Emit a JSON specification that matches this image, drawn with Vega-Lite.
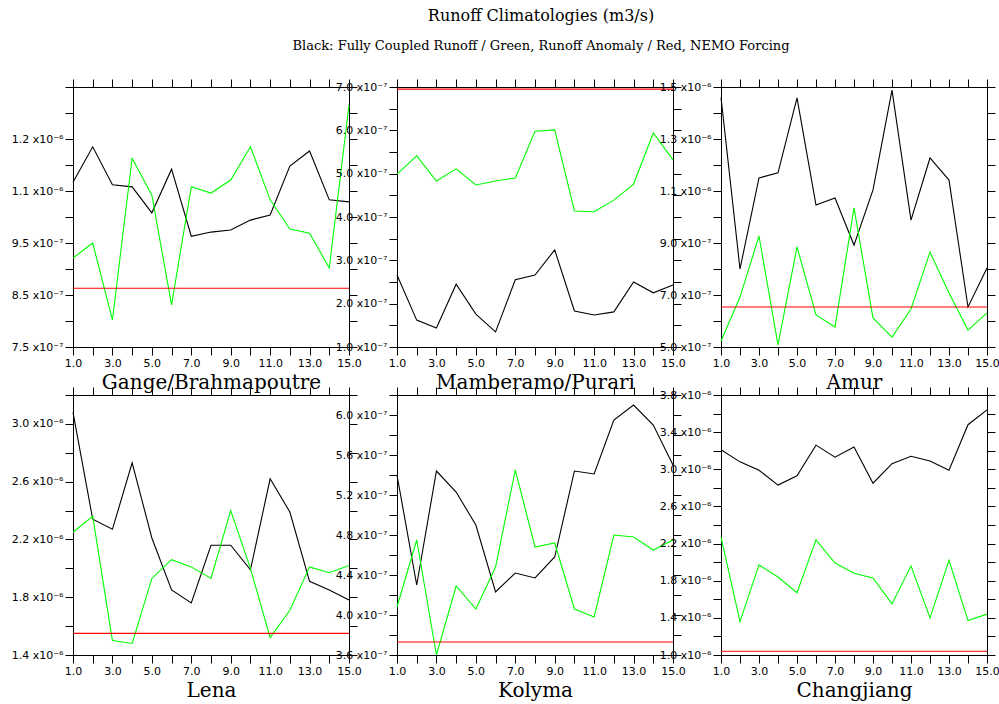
{
  "$schema": "https://vega.github.io/schema/vega-lite/v6.json",
  "background": "white",
  "padding": {"left": 10, "top": 8, "right": 5, "bottom": 5},
  "title": {
    "text": "Runoff Climatologies (m3/s)",
    "subtitle": "Black: Fully Coupled Runoff / Green, Runoff Anomaly  / Red, NEMO Forcing",
    "font": "DejaVu Serif", "fontSize": 16, "fontWeight": "normal", "color": "black",
    "subtitleFont": "DejaVu Serif", "subtitleFontSize": 13, "subtitleColor": "black",
    "subtitlePadding": 16, "offset": 25, "anchor": "middle", "frame": "group", "dx": 468
  },
  "datasets": {
    "runoff": [
      {"river": "Gange/Brahmapoutre", "series": "Fully Coupled Runoff", "month": 1, "value": 1.067e-6},
      {"river": "Gange/Brahmapoutre", "series": "Fully Coupled Runoff", "month": 2, "value": 1.135e-6},
      {"river": "Gange/Brahmapoutre", "series": "Fully Coupled Runoff", "month": 3, "value": 1.062e-6},
      {"river": "Gange/Brahmapoutre", "series": "Fully Coupled Runoff", "month": 4, "value": 1.058e-6},
      {"river": "Gange/Brahmapoutre", "series": "Fully Coupled Runoff", "month": 5, "value": 1.008e-6},
      {"river": "Gange/Brahmapoutre", "series": "Fully Coupled Runoff", "month": 6, "value": 1.092e-6},
      {"river": "Gange/Brahmapoutre", "series": "Fully Coupled Runoff", "month": 7, "value": 0.963e-6},
      {"river": "Gange/Brahmapoutre", "series": "Fully Coupled Runoff", "month": 8, "value": 0.971e-6},
      {"river": "Gange/Brahmapoutre", "series": "Fully Coupled Runoff", "month": 9, "value": 0.975e-6},
      {"river": "Gange/Brahmapoutre", "series": "Fully Coupled Runoff", "month": 10, "value": 0.994e-6},
      {"river": "Gange/Brahmapoutre", "series": "Fully Coupled Runoff", "month": 11, "value": 1.004e-6},
      {"river": "Gange/Brahmapoutre", "series": "Fully Coupled Runoff", "month": 12, "value": 1.098e-6},
      {"river": "Gange/Brahmapoutre", "series": "Fully Coupled Runoff", "month": 13, "value": 1.127e-6},
      {"river": "Gange/Brahmapoutre", "series": "Fully Coupled Runoff", "month": 14, "value": 1.033e-6},
      {"river": "Gange/Brahmapoutre", "series": "Fully Coupled Runoff", "month": 15, "value": 1.029e-6},
      {"river": "Gange/Brahmapoutre", "series": "Runoff Anomaly", "month": 1, "value": 0.921e-6},
      {"river": "Gange/Brahmapoutre", "series": "Runoff Anomaly", "month": 2, "value": 0.950e-6},
      {"river": "Gange/Brahmapoutre", "series": "Runoff Anomaly", "month": 3, "value": 0.802e-6},
      {"river": "Gange/Brahmapoutre", "series": "Runoff Anomaly", "month": 4, "value": 1.113e-6},
      {"river": "Gange/Brahmapoutre", "series": "Runoff Anomaly", "month": 5, "value": 1.042e-6},
      {"river": "Gange/Brahmapoutre", "series": "Runoff Anomaly", "month": 6, "value": 0.831e-6},
      {"river": "Gange/Brahmapoutre", "series": "Runoff Anomaly", "month": 7, "value": 1.058e-6},
      {"river": "Gange/Brahmapoutre", "series": "Runoff Anomaly", "month": 8, "value": 1.046e-6},
      {"river": "Gange/Brahmapoutre", "series": "Runoff Anomaly", "month": 9, "value": 1.071e-6},
      {"river": "Gange/Brahmapoutre", "series": "Runoff Anomaly", "month": 10, "value": 1.135e-6},
      {"river": "Gange/Brahmapoutre", "series": "Runoff Anomaly", "month": 11, "value": 1.033e-6},
      {"river": "Gange/Brahmapoutre", "series": "Runoff Anomaly", "month": 12, "value": 0.977e-6},
      {"river": "Gange/Brahmapoutre", "series": "Runoff Anomaly", "month": 13, "value": 0.969e-6},
      {"river": "Gange/Brahmapoutre", "series": "Runoff Anomaly", "month": 14, "value": 0.902e-6},
      {"river": "Gange/Brahmapoutre", "series": "Runoff Anomaly", "month": 15, "value": 1.215e-6},
      {"river": "Gange/Brahmapoutre", "series": "NEMO Forcing", "month": 1, "value": 0.863e-6},
      {"river": "Gange/Brahmapoutre", "series": "NEMO Forcing", "month": 15, "value": 0.863e-6},

      {"river": "Mamberamo/Purari", "series": "Fully Coupled Runoff", "month": 1, "value": 2.66e-7},
      {"river": "Mamberamo/Purari", "series": "Fully Coupled Runoff", "month": 2, "value": 1.62e-7},
      {"river": "Mamberamo/Purari", "series": "Fully Coupled Runoff", "month": 3, "value": 1.44e-7},
      {"river": "Mamberamo/Purari", "series": "Fully Coupled Runoff", "month": 4, "value": 2.45e-7},
      {"river": "Mamberamo/Purari", "series": "Fully Coupled Runoff", "month": 5, "value": 1.76e-7},
      {"river": "Mamberamo/Purari", "series": "Fully Coupled Runoff", "month": 6, "value": 1.35e-7},
      {"river": "Mamberamo/Purari", "series": "Fully Coupled Runoff", "month": 7, "value": 2.55e-7},
      {"river": "Mamberamo/Purari", "series": "Fully Coupled Runoff", "month": 8, "value": 2.66e-7},
      {"river": "Mamberamo/Purari", "series": "Fully Coupled Runoff", "month": 9, "value": 3.24e-7},
      {"river": "Mamberamo/Purari", "series": "Fully Coupled Runoff", "month": 10, "value": 1.83e-7},
      {"river": "Mamberamo/Purari", "series": "Fully Coupled Runoff", "month": 11, "value": 1.74e-7},
      {"river": "Mamberamo/Purari", "series": "Fully Coupled Runoff", "month": 12, "value": 1.81e-7},
      {"river": "Mamberamo/Purari", "series": "Fully Coupled Runoff", "month": 13, "value": 2.50e-7},
      {"river": "Mamberamo/Purari", "series": "Fully Coupled Runoff", "month": 14, "value": 2.25e-7},
      {"river": "Mamberamo/Purari", "series": "Fully Coupled Runoff", "month": 15, "value": 2.43e-7},
      {"river": "Mamberamo/Purari", "series": "Runoff Anomaly", "month": 1, "value": 4.99e-7},
      {"river": "Mamberamo/Purari", "series": "Runoff Anomaly", "month": 2, "value": 5.41e-7},
      {"river": "Mamberamo/Purari", "series": "Runoff Anomaly", "month": 3, "value": 4.83e-7},
      {"river": "Mamberamo/Purari", "series": "Runoff Anomaly", "month": 4, "value": 5.11e-7},
      {"river": "Mamberamo/Purari", "series": "Runoff Anomaly", "month": 5, "value": 4.74e-7},
      {"river": "Mamberamo/Purari", "series": "Runoff Anomaly", "month": 6, "value": 4.83e-7},
      {"river": "Mamberamo/Purari", "series": "Runoff Anomaly", "month": 7, "value": 4.90e-7},
      {"river": "Mamberamo/Purari", "series": "Runoff Anomaly", "month": 8, "value": 5.98e-7},
      {"river": "Mamberamo/Purari", "series": "Runoff Anomaly", "month": 9, "value": 6.01e-7},
      {"river": "Mamberamo/Purari", "series": "Runoff Anomaly", "month": 10, "value": 4.14e-7},
      {"river": "Mamberamo/Purari", "series": "Runoff Anomaly", "month": 11, "value": 4.12e-7},
      {"river": "Mamberamo/Purari", "series": "Runoff Anomaly", "month": 12, "value": 4.39e-7},
      {"river": "Mamberamo/Purari", "series": "Runoff Anomaly", "month": 13, "value": 4.76e-7},
      {"river": "Mamberamo/Purari", "series": "Runoff Anomaly", "month": 14, "value": 5.94e-7},
      {"river": "Mamberamo/Purari", "series": "Runoff Anomaly", "month": 15, "value": 5.32e-7},
      {"river": "Mamberamo/Purari", "series": "NEMO Forcing", "month": 1, "value": 6.95e-7},
      {"river": "Mamberamo/Purari", "series": "NEMO Forcing", "month": 15, "value": 6.95e-7},

      {"river": "Amur", "series": "Fully Coupled Runoff", "month": 1, "value": 1.46e-6},
      {"river": "Amur", "series": "Fully Coupled Runoff", "month": 2, "value": 8.0e-7},
      {"river": "Amur", "series": "Fully Coupled Runoff", "month": 3, "value": 1.15e-6},
      {"river": "Amur", "series": "Fully Coupled Runoff", "month": 4, "value": 1.17e-6},
      {"river": "Amur", "series": "Fully Coupled Runoff", "month": 5, "value": 1.458e-6},
      {"river": "Amur", "series": "Fully Coupled Runoff", "month": 6, "value": 1.046e-6},
      {"river": "Amur", "series": "Fully Coupled Runoff", "month": 7, "value": 1.073e-6},
      {"river": "Amur", "series": "Fully Coupled Runoff", "month": 8, "value": 8.92e-7},
      {"river": "Amur", "series": "Fully Coupled Runoff", "month": 9, "value": 1.104e-6},
      {"river": "Amur", "series": "Fully Coupled Runoff", "month": 10, "value": 1.488e-6},
      {"river": "Amur", "series": "Fully Coupled Runoff", "month": 11, "value": 9.88e-7},
      {"river": "Amur", "series": "Fully Coupled Runoff", "month": 12, "value": 1.227e-6},
      {"river": "Amur", "series": "Fully Coupled Runoff", "month": 13, "value": 1.142e-6},
      {"river": "Amur", "series": "Fully Coupled Runoff", "month": 14, "value": 6.54e-7},
      {"river": "Amur", "series": "Fully Coupled Runoff", "month": 15, "value": 8.04e-7},
      {"river": "Amur", "series": "Runoff Anomaly", "month": 1, "value": 5.23e-7},
      {"river": "Amur", "series": "Runoff Anomaly", "month": 2, "value": 6.92e-7},
      {"river": "Amur", "series": "Runoff Anomaly", "month": 3, "value": 9.27e-7},
      {"river": "Amur", "series": "Runoff Anomaly", "month": 4, "value": 5.08e-7},
      {"river": "Amur", "series": "Runoff Anomaly", "month": 5, "value": 8.85e-7},
      {"river": "Amur", "series": "Runoff Anomaly", "month": 6, "value": 6.23e-7},
      {"river": "Amur", "series": "Runoff Anomaly", "month": 7, "value": 5.77e-7},
      {"river": "Amur", "series": "Runoff Anomaly", "month": 8, "value": 1.035e-6},
      {"river": "Amur", "series": "Runoff Anomaly", "month": 9, "value": 6.12e-7},
      {"river": "Amur", "series": "Runoff Anomaly", "month": 10, "value": 5.38e-7},
      {"river": "Amur", "series": "Runoff Anomaly", "month": 11, "value": 6.46e-7},
      {"river": "Amur", "series": "Runoff Anomaly", "month": 12, "value": 8.65e-7},
      {"river": "Amur", "series": "Runoff Anomaly", "month": 13, "value": 7.08e-7},
      {"river": "Amur", "series": "Runoff Anomaly", "month": 14, "value": 5.65e-7},
      {"river": "Amur", "series": "Runoff Anomaly", "month": 15, "value": 6.31e-7},
      {"river": "Amur", "series": "NEMO Forcing", "month": 1, "value": 6.54e-7},
      {"river": "Amur", "series": "NEMO Forcing", "month": 15, "value": 6.54e-7},

      {"river": "Lena", "series": "Fully Coupled Runoff", "month": 1, "value": 3.08e-6},
      {"river": "Lena", "series": "Fully Coupled Runoff", "month": 2, "value": 2.34e-6},
      {"river": "Lena", "series": "Fully Coupled Runoff", "month": 3, "value": 2.27e-6},
      {"river": "Lena", "series": "Fully Coupled Runoff", "month": 4, "value": 2.73e-6},
      {"river": "Lena", "series": "Fully Coupled Runoff", "month": 5, "value": 2.21e-6},
      {"river": "Lena", "series": "Fully Coupled Runoff", "month": 6, "value": 1.85e-6},
      {"river": "Lena", "series": "Fully Coupled Runoff", "month": 7, "value": 1.76e-6},
      {"river": "Lena", "series": "Fully Coupled Runoff", "month": 8, "value": 2.16e-6},
      {"river": "Lena", "series": "Fully Coupled Runoff", "month": 9, "value": 2.16e-6},
      {"river": "Lena", "series": "Fully Coupled Runoff", "month": 10, "value": 1.99e-6},
      {"river": "Lena", "series": "Fully Coupled Runoff", "month": 11, "value": 2.62e-6},
      {"river": "Lena", "series": "Fully Coupled Runoff", "month": 12, "value": 2.39e-6},
      {"river": "Lena", "series": "Fully Coupled Runoff", "month": 13, "value": 1.91e-6},
      {"river": "Lena", "series": "Fully Coupled Runoff", "month": 14, "value": 1.85e-6},
      {"river": "Lena", "series": "Fully Coupled Runoff", "month": 15, "value": 1.78e-6},
      {"river": "Lena", "series": "Runoff Anomaly", "month": 1, "value": 2.25e-6},
      {"river": "Lena", "series": "Runoff Anomaly", "month": 2, "value": 2.36e-6},
      {"river": "Lena", "series": "Runoff Anomaly", "month": 3, "value": 1.50e-6},
      {"river": "Lena", "series": "Runoff Anomaly", "month": 4, "value": 1.48e-6},
      {"river": "Lena", "series": "Runoff Anomaly", "month": 5, "value": 1.93e-6},
      {"river": "Lena", "series": "Runoff Anomaly", "month": 6, "value": 2.06e-6},
      {"river": "Lena", "series": "Runoff Anomaly", "month": 7, "value": 2.01e-6},
      {"river": "Lena", "series": "Runoff Anomaly", "month": 8, "value": 1.93e-6},
      {"river": "Lena", "series": "Runoff Anomaly", "month": 9, "value": 2.40e-6},
      {"river": "Lena", "series": "Runoff Anomaly", "month": 10, "value": 2.00e-6},
      {"river": "Lena", "series": "Runoff Anomaly", "month": 11, "value": 1.52e-6},
      {"river": "Lena", "series": "Runoff Anomaly", "month": 12, "value": 1.71e-6},
      {"river": "Lena", "series": "Runoff Anomaly", "month": 13, "value": 2.01e-6},
      {"river": "Lena", "series": "Runoff Anomaly", "month": 14, "value": 1.97e-6},
      {"river": "Lena", "series": "Runoff Anomaly", "month": 15, "value": 2.02e-6},
      {"river": "Lena", "series": "NEMO Forcing", "month": 1, "value": 1.55e-6},
      {"river": "Lena", "series": "NEMO Forcing", "month": 15, "value": 1.55e-6},

      {"river": "Kolyma", "series": "Fully Coupled Runoff", "month": 1, "value": 5.40e-7},
      {"river": "Kolyma", "series": "Fully Coupled Runoff", "month": 2, "value": 4.30e-7},
      {"river": "Kolyma", "series": "Fully Coupled Runoff", "month": 3, "value": 5.44e-7},
      {"river": "Kolyma", "series": "Fully Coupled Runoff", "month": 4, "value": 5.23e-7},
      {"river": "Kolyma", "series": "Fully Coupled Runoff", "month": 5, "value": 4.90e-7},
      {"river": "Kolyma", "series": "Fully Coupled Runoff", "month": 6, "value": 4.23e-7},
      {"river": "Kolyma", "series": "Fully Coupled Runoff", "month": 7, "value": 4.42e-7},
      {"river": "Kolyma", "series": "Fully Coupled Runoff", "month": 8, "value": 4.37e-7},
      {"river": "Kolyma", "series": "Fully Coupled Runoff", "month": 9, "value": 4.58e-7},
      {"river": "Kolyma", "series": "Fully Coupled Runoff", "month": 10, "value": 5.44e-7},
      {"river": "Kolyma", "series": "Fully Coupled Runoff", "month": 11, "value": 5.41e-7},
      {"river": "Kolyma", "series": "Fully Coupled Runoff", "month": 12, "value": 5.95e-7},
      {"river": "Kolyma", "series": "Fully Coupled Runoff", "month": 13, "value": 6.10e-7},
      {"river": "Kolyma", "series": "Fully Coupled Runoff", "month": 14, "value": 5.90e-7},
      {"river": "Kolyma", "series": "Fully Coupled Runoff", "month": 15, "value": 5.50e-7},
      {"river": "Kolyma", "series": "Runoff Anomaly", "month": 1, "value": 4.08e-7},
      {"river": "Kolyma", "series": "Runoff Anomaly", "month": 2, "value": 4.75e-7},
      {"river": "Kolyma", "series": "Runoff Anomaly", "month": 3, "value": 3.60e-7},
      {"river": "Kolyma", "series": "Runoff Anomaly", "month": 4, "value": 4.29e-7},
      {"river": "Kolyma", "series": "Runoff Anomaly", "month": 5, "value": 4.06e-7},
      {"river": "Kolyma", "series": "Runoff Anomaly", "month": 6, "value": 4.48e-7},
      {"river": "Kolyma", "series": "Runoff Anomaly", "month": 7, "value": 5.45e-7},
      {"river": "Kolyma", "series": "Runoff Anomaly", "month": 8, "value": 4.68e-7},
      {"river": "Kolyma", "series": "Runoff Anomaly", "month": 9, "value": 4.72e-7},
      {"river": "Kolyma", "series": "Runoff Anomaly", "month": 10, "value": 4.06e-7},
      {"river": "Kolyma", "series": "Runoff Anomaly", "month": 11, "value": 3.98e-7},
      {"river": "Kolyma", "series": "Runoff Anomaly", "month": 12, "value": 4.80e-7},
      {"river": "Kolyma", "series": "Runoff Anomaly", "month": 13, "value": 4.78e-7},
      {"river": "Kolyma", "series": "Runoff Anomaly", "month": 14, "value": 4.65e-7},
      {"river": "Kolyma", "series": "Runoff Anomaly", "month": 15, "value": 4.75e-7},
      {"river": "Kolyma", "series": "NEMO Forcing", "month": 1, "value": 3.73e-7},
      {"river": "Kolyma", "series": "NEMO Forcing", "month": 15, "value": 3.73e-7},

      {"river": "Changjiang", "series": "Fully Coupled Runoff", "month": 1, "value": 3.21e-6},
      {"river": "Changjiang", "series": "Fully Coupled Runoff", "month": 2, "value": 3.08e-6},
      {"river": "Changjiang", "series": "Fully Coupled Runoff", "month": 3, "value": 2.99e-6},
      {"river": "Changjiang", "series": "Fully Coupled Runoff", "month": 4, "value": 2.83e-6},
      {"river": "Changjiang", "series": "Fully Coupled Runoff", "month": 5, "value": 2.93e-6},
      {"river": "Changjiang", "series": "Fully Coupled Runoff", "month": 6, "value": 3.26e-6},
      {"river": "Changjiang", "series": "Fully Coupled Runoff", "month": 7, "value": 3.13e-6},
      {"river": "Changjiang", "series": "Fully Coupled Runoff", "month": 8, "value": 3.24e-6},
      {"river": "Changjiang", "series": "Fully Coupled Runoff", "month": 9, "value": 2.85e-6},
      {"river": "Changjiang", "series": "Fully Coupled Runoff", "month": 10, "value": 3.06e-6},
      {"river": "Changjiang", "series": "Fully Coupled Runoff", "month": 11, "value": 3.14e-6},
      {"river": "Changjiang", "series": "Fully Coupled Runoff", "month": 12, "value": 3.09e-6},
      {"river": "Changjiang", "series": "Fully Coupled Runoff", "month": 13, "value": 2.99e-6},
      {"river": "Changjiang", "series": "Fully Coupled Runoff", "month": 14, "value": 3.48e-6},
      {"river": "Changjiang", "series": "Fully Coupled Runoff", "month": 15, "value": 3.64e-6},
      {"river": "Changjiang", "series": "Runoff Anomaly", "month": 1, "value": 2.27e-6},
      {"river": "Changjiang", "series": "Runoff Anomaly", "month": 2, "value": 1.36e-6},
      {"river": "Changjiang", "series": "Runoff Anomaly", "month": 3, "value": 1.97e-6},
      {"river": "Changjiang", "series": "Runoff Anomaly", "month": 4, "value": 1.84e-6},
      {"river": "Changjiang", "series": "Runoff Anomaly", "month": 5, "value": 1.67e-6},
      {"river": "Changjiang", "series": "Runoff Anomaly", "month": 6, "value": 2.24e-6},
      {"river": "Changjiang", "series": "Runoff Anomaly", "month": 7, "value": 1.99e-6},
      {"river": "Changjiang", "series": "Runoff Anomaly", "month": 8, "value": 1.88e-6},
      {"river": "Changjiang", "series": "Runoff Anomaly", "month": 9, "value": 1.83e-6},
      {"river": "Changjiang", "series": "Runoff Anomaly", "month": 10, "value": 1.55e-6},
      {"river": "Changjiang", "series": "Runoff Anomaly", "month": 11, "value": 1.96e-6},
      {"river": "Changjiang", "series": "Runoff Anomaly", "month": 12, "value": 1.40e-6},
      {"river": "Changjiang", "series": "Runoff Anomaly", "month": 13, "value": 2.02e-6},
      {"river": "Changjiang", "series": "Runoff Anomaly", "month": 14, "value": 1.37e-6},
      {"river": "Changjiang", "series": "Runoff Anomaly", "month": 15, "value": 1.44e-6},
      {"river": "Changjiang", "series": "NEMO Forcing", "month": 1, "value": 1.04e-6},
      {"river": "Changjiang", "series": "NEMO Forcing", "month": 15, "value": 1.04e-6}
    ]
  },
  "data": {"name": "runoff"},
  "columns": 3,
  "spacing": {"row": 48, "column": 48},
  "bounds": "flush",
  "concat": [
    {
      "width": 276, "height": 260,
      "transform": [{"filter": "datum.river == 'Gange/Brahmapoutre'"}],
      "layer": [
        {"mark": {"type": "line", "strokeWidth": 1.1},
         "encoding": {
           "x": {"field": "month", "type": "quantitative", "scale": {"domain": [1, 15], "nice": false, "zero": false},
                 "axis": {"orient": "bottom", "values": [1,2,3,4,5,6,7,8,9,10,11,12,13,14,15], "labelExpr": "datum.value % 2 == 1 ? format(datum.value, '.1f') : ''", "title": "Gange/Brahmapoutre"}},
           "y": {"field": "value", "type": "quantitative", "scale": {"domain": [7.5e-7, 1.25e-6], "nice": false, "zero": false},
                 "axis": {"orient": "left", "values": [7.5e-7, 8e-7, 8.5e-7, 9e-7, 9.5e-7, 1e-6, 1.05e-6, 1.1e-6, 1.15e-6, 1.2e-6, 1.25e-6],
                          "labelExpr": "['7.5 x10⁻⁷','','8.5 x10⁻⁷','','9.5 x10⁻⁷','','1.1 x10⁻⁶','','1.2 x10⁻⁶','',''][round((datum.value-7.5e-7)/5e-8)]", "title": null}},
           "color": {"field": "series", "type": "nominal", "scale": {"domain": ["Fully Coupled Runoff", "Runoff Anomaly", "NEMO Forcing"], "range": ["#000000", "#00ff00", "#ff0000"]}, "legend": null}
         }},
        {"mark": {"type": "line", "opacity": 0},
         "encoding": {
           "x": {"field": "month", "type": "quantitative", "axis": {"orient": "top", "values": [1,2,3,4,5,6,7,8,9,10,11,12,13,14,15], "labels": false, "domain": false, "title": null}},
           "y": {"field": "value", "type": "quantitative", "axis": {"orient": "right", "values": [7.5e-7, 8e-7, 8.5e-7, 9e-7, 9.5e-7, 1e-6, 1.05e-6, 1.1e-6, 1.15e-6, 1.2e-6, 1.25e-6], "labels": false, "domain": false, "title": null}},
           "detail": {"field": "series"}
         }}
      ],
      "resolve": {"axis": {"x": "independent", "y": "independent"}}
    },
    {
      "width": 276, "height": 260,
      "transform": [{"filter": "datum.river == 'Mamberamo/Purari'"}],
      "layer": [
        {"mark": {"type": "line", "strokeWidth": 1.1},
         "encoding": {
           "x": {"field": "month", "type": "quantitative", "scale": {"domain": [1, 15], "nice": false, "zero": false},
                 "axis": {"orient": "bottom", "values": [1,2,3,4,5,6,7,8,9,10,11,12,13,14,15], "labelExpr": "datum.value % 2 == 1 ? format(datum.value, '.1f') : ''", "title": "Mamberamo/Purari"}},
           "y": {"field": "value", "type": "quantitative", "scale": {"domain": [1e-7, 7e-7], "nice": false, "zero": false},
                 "axis": {"orient": "left", "values": [1e-7, 1.5e-7, 2e-7, 2.5e-7, 3e-7, 3.5e-7, 4e-7, 4.5e-7, 5e-7, 5.5e-7, 6e-7, 6.5e-7, 7e-7],
                          "labelExpr": "['1.0 x10⁻⁷','','2.0 x10⁻⁷','','3.0 x10⁻⁷','','4.0 x10⁻⁷','','5.0 x10⁻⁷','','6.0 x10⁻⁷','','7.0 x10⁻⁷'][round((datum.value-1e-7)/5e-8)]", "title": null}},
           "color": {"field": "series", "type": "nominal", "scale": {"domain": ["Fully Coupled Runoff", "Runoff Anomaly", "NEMO Forcing"], "range": ["#000000", "#00ff00", "#ff0000"]}, "legend": null}
         }},
        {"mark": {"type": "line", "opacity": 0},
         "encoding": {
           "x": {"field": "month", "type": "quantitative", "axis": {"orient": "top", "values": [1,2,3,4,5,6,7,8,9,10,11,12,13,14,15], "labels": false, "domain": false, "title": null}},
           "y": {"field": "value", "type": "quantitative", "axis": {"orient": "right", "values": [1e-7, 1.5e-7, 2e-7, 2.5e-7, 3e-7, 3.5e-7, 4e-7, 4.5e-7, 5e-7, 5.5e-7, 6e-7, 6.5e-7, 7e-7], "labels": false, "domain": false, "title": null}},
           "detail": {"field": "series"}
         }}
      ],
      "resolve": {"axis": {"x": "independent", "y": "independent"}}
    },
    {
      "width": 266, "height": 260,
      "transform": [{"filter": "datum.river == 'Amur'"}],
      "layer": [
        {"mark": {"type": "line", "strokeWidth": 1.1},
         "encoding": {
           "x": {"field": "month", "type": "quantitative", "scale": {"domain": [1, 15], "nice": false, "zero": false},
                 "axis": {"orient": "bottom", "values": [1,2,3,4,5,6,7,8,9,10,11,12,13,14,15], "labelExpr": "datum.value % 2 == 1 ? format(datum.value, '.1f') : ''", "title": "Amur"}},
           "y": {"field": "value", "type": "quantitative", "scale": {"domain": [5e-7, 1.5e-6], "nice": false, "zero": false},
                 "axis": {"orient": "left", "values": [5e-7, 6e-7, 7e-7, 8e-7, 9e-7, 1e-6, 1.1e-6, 1.2e-6, 1.3e-6, 1.4e-6, 1.5e-6],
                          "labelExpr": "['5.0 x10⁻⁷','','7.0 x10⁻⁷','','9.0 x10⁻⁷','','1.1 x10⁻⁶','','1.3 x10⁻⁶','','1.5 x10⁻⁶'][round((datum.value-5e-7)/1e-7)]", "title": null}},
           "color": {"field": "series", "type": "nominal", "scale": {"domain": ["Fully Coupled Runoff", "Runoff Anomaly", "NEMO Forcing"], "range": ["#000000", "#00ff00", "#ff0000"]}, "legend": null}
         }},
        {"mark": {"type": "line", "opacity": 0},
         "encoding": {
           "x": {"field": "month", "type": "quantitative", "axis": {"orient": "top", "values": [1,2,3,4,5,6,7,8,9,10,11,12,13,14,15], "labels": false, "domain": false, "title": null}},
           "y": {"field": "value", "type": "quantitative", "axis": {"orient": "right", "values": [5e-7, 6e-7, 7e-7, 8e-7, 9e-7, 1e-6, 1.1e-6, 1.2e-6, 1.3e-6, 1.4e-6, 1.5e-6], "labels": false, "domain": false, "title": null}},
           "detail": {"field": "series"}
         }}
      ],
      "resolve": {"axis": {"x": "independent", "y": "independent"}}
    },
    {
      "width": 276, "height": 260,
      "transform": [{"filter": "datum.river == 'Lena'"}],
      "layer": [
        {"mark": {"type": "line", "strokeWidth": 1.1},
         "encoding": {
           "x": {"field": "month", "type": "quantitative", "scale": {"domain": [1, 15], "nice": false, "zero": false},
                 "axis": {"orient": "bottom", "values": [1,2,3,4,5,6,7,8,9,10,11,12,13,14,15], "labelExpr": "datum.value % 2 == 1 ? format(datum.value, '.1f') : ''", "title": "Lena"}},
           "y": {"field": "value", "type": "quantitative", "scale": {"domain": [1.4e-6, 3.2e-6], "nice": false, "zero": false},
                 "axis": {"orient": "left", "values": [1.4e-6, 1.6e-6, 1.8e-6, 2e-6, 2.2e-6, 2.4e-6, 2.6e-6, 2.8e-6, 3e-6, 3.2e-6],
                          "labelExpr": "['1.4 x10⁻⁶','','1.8 x10⁻⁶','','2.2 x10⁻⁶','','2.6 x10⁻⁶','','3.0 x10⁻⁶',''][round((datum.value-1.4e-6)/2e-7)]", "title": null}},
           "color": {"field": "series", "type": "nominal", "scale": {"domain": ["Fully Coupled Runoff", "Runoff Anomaly", "NEMO Forcing"], "range": ["#000000", "#00ff00", "#ff0000"]}, "legend": null}
         }},
        {"mark": {"type": "line", "opacity": 0},
         "encoding": {
           "x": {"field": "month", "type": "quantitative", "axis": {"orient": "top", "values": [1,2,3,4,5,6,7,8,9,10,11,12,13,14,15], "labels": false, "domain": false, "title": null}},
           "y": {"field": "value", "type": "quantitative", "axis": {"orient": "right", "values": [1.4e-6, 1.6e-6, 1.8e-6, 2e-6, 2.2e-6, 2.4e-6, 2.6e-6, 2.8e-6, 3e-6, 3.2e-6], "labels": false, "domain": false, "title": null}},
           "detail": {"field": "series"}
         }}
      ],
      "resolve": {"axis": {"x": "independent", "y": "independent"}}
    },
    {
      "width": 276, "height": 260,
      "transform": [{"filter": "datum.river == 'Kolyma'"}],
      "layer": [
        {"mark": {"type": "line", "strokeWidth": 1.1},
         "encoding": {
           "x": {"field": "month", "type": "quantitative", "scale": {"domain": [1, 15], "nice": false, "zero": false},
                 "axis": {"orient": "bottom", "values": [1,2,3,4,5,6,7,8,9,10,11,12,13,14,15], "labelExpr": "datum.value % 2 == 1 ? format(datum.value, '.1f') : ''", "title": "Kolyma"}},
           "y": {"field": "value", "type": "quantitative", "scale": {"domain": [3.6e-7, 6.2e-7], "nice": false, "zero": false},
                 "axis": {"orient": "left", "values": [3.6e-7, 3.8e-7, 4e-7, 4.2e-7, 4.4e-7, 4.6e-7, 4.8e-7, 5e-7, 5.2e-7, 5.4e-7, 5.6e-7, 5.8e-7, 6e-7, 6.2e-7],
                          "labelExpr": "['3.6 x10⁻⁷','','4.0 x10⁻⁷','','4.4 x10⁻⁷','','4.8 x10⁻⁷','','5.2 x10⁻⁷','','5.6 x10⁻⁷','','6.0 x10⁻⁷',''][round((datum.value-3.6e-7)/2e-8)]", "title": null}},
           "color": {"field": "series", "type": "nominal", "scale": {"domain": ["Fully Coupled Runoff", "Runoff Anomaly", "NEMO Forcing"], "range": ["#000000", "#00ff00", "#ff0000"]}, "legend": null}
         }},
        {"mark": {"type": "line", "opacity": 0},
         "encoding": {
           "x": {"field": "month", "type": "quantitative", "axis": {"orient": "top", "values": [1,2,3,4,5,6,7,8,9,10,11,12,13,14,15], "labels": false, "domain": false, "title": null}},
           "y": {"field": "value", "type": "quantitative", "axis": {"orient": "right", "values": [3.6e-7, 3.8e-7, 4e-7, 4.2e-7, 4.4e-7, 4.6e-7, 4.8e-7, 5e-7, 5.2e-7, 5.4e-7, 5.6e-7, 5.8e-7, 6e-7, 6.2e-7], "labels": false, "domain": false, "title": null}},
           "detail": {"field": "series"}
         }}
      ],
      "resolve": {"axis": {"x": "independent", "y": "independent"}}
    },
    {
      "width": 266, "height": 260,
      "transform": [{"filter": "datum.river == 'Changjiang'"}],
      "layer": [
        {"mark": {"type": "line", "strokeWidth": 1.1},
         "encoding": {
           "x": {"field": "month", "type": "quantitative", "scale": {"domain": [1, 15], "nice": false, "zero": false},
                 "axis": {"orient": "bottom", "values": [1,2,3,4,5,6,7,8,9,10,11,12,13,14,15], "labelExpr": "datum.value % 2 == 1 ? format(datum.value, '.1f') : ''", "title": "Changjiang"}},
           "y": {"field": "value", "type": "quantitative", "scale": {"domain": [1e-6, 3.8e-6], "nice": false, "zero": false},
                 "axis": {"orient": "left", "values": [1e-6, 1.2e-6, 1.4e-6, 1.6e-6, 1.8e-6, 2e-6, 2.2e-6, 2.4e-6, 2.6e-6, 2.8e-6, 3e-6, 3.2e-6, 3.4e-6, 3.6e-6, 3.8e-6],
                          "labelExpr": "['1.0 x10⁻⁶','','1.4 x10⁻⁶','','1.8 x10⁻⁶','','2.2 x10⁻⁶','','2.6 x10⁻⁶','','3.0 x10⁻⁶','','3.4 x10⁻⁶','','3.8 x10⁻⁶'][round((datum.value-1e-6)/2e-7)]", "title": null}},
           "color": {"field": "series", "type": "nominal", "scale": {"domain": ["Fully Coupled Runoff", "Runoff Anomaly", "NEMO Forcing"], "range": ["#000000", "#00ff00", "#ff0000"]}, "legend": null}
         }},
        {"mark": {"type": "line", "opacity": 0},
         "encoding": {
           "x": {"field": "month", "type": "quantitative", "axis": {"orient": "top", "values": [1,2,3,4,5,6,7,8,9,10,11,12,13,14,15], "labels": false, "domain": false, "title": null}},
           "y": {"field": "value", "type": "quantitative", "axis": {"orient": "right", "values": [1e-6, 1.2e-6, 1.4e-6, 1.6e-6, 1.8e-6, 2e-6, 2.2e-6, 2.4e-6, 2.6e-6, 2.8e-6, 3e-6, 3.2e-6, 3.4e-6, 3.6e-6, 3.8e-6], "labels": false, "domain": false, "title": null}},
           "detail": {"field": "series"}
         }}
      ],
      "resolve": {"axis": {"x": "independent", "y": "independent"}}
    }
  ],
  "config": {
    "view": {"stroke": "black", "strokeWidth": 1},
    "axis": {
      "domainColor": "black", "tickColor": "black", "labelColor": "black",
      "labelFont": "DejaVu Sans", "labelFontSize": 11, "tickSize": 8, "grid": false,
      "labelOverlap": false, "labelFlush": false, "labelPadding": 2,
      "titleFont": "DejaVu Serif", "titleFontSize": 20, "titleFontWeight": "normal", "titleColor": "black", "titlePadding": 4
    },
    "line": {"strokeWidth": 1.1}
  }
}
